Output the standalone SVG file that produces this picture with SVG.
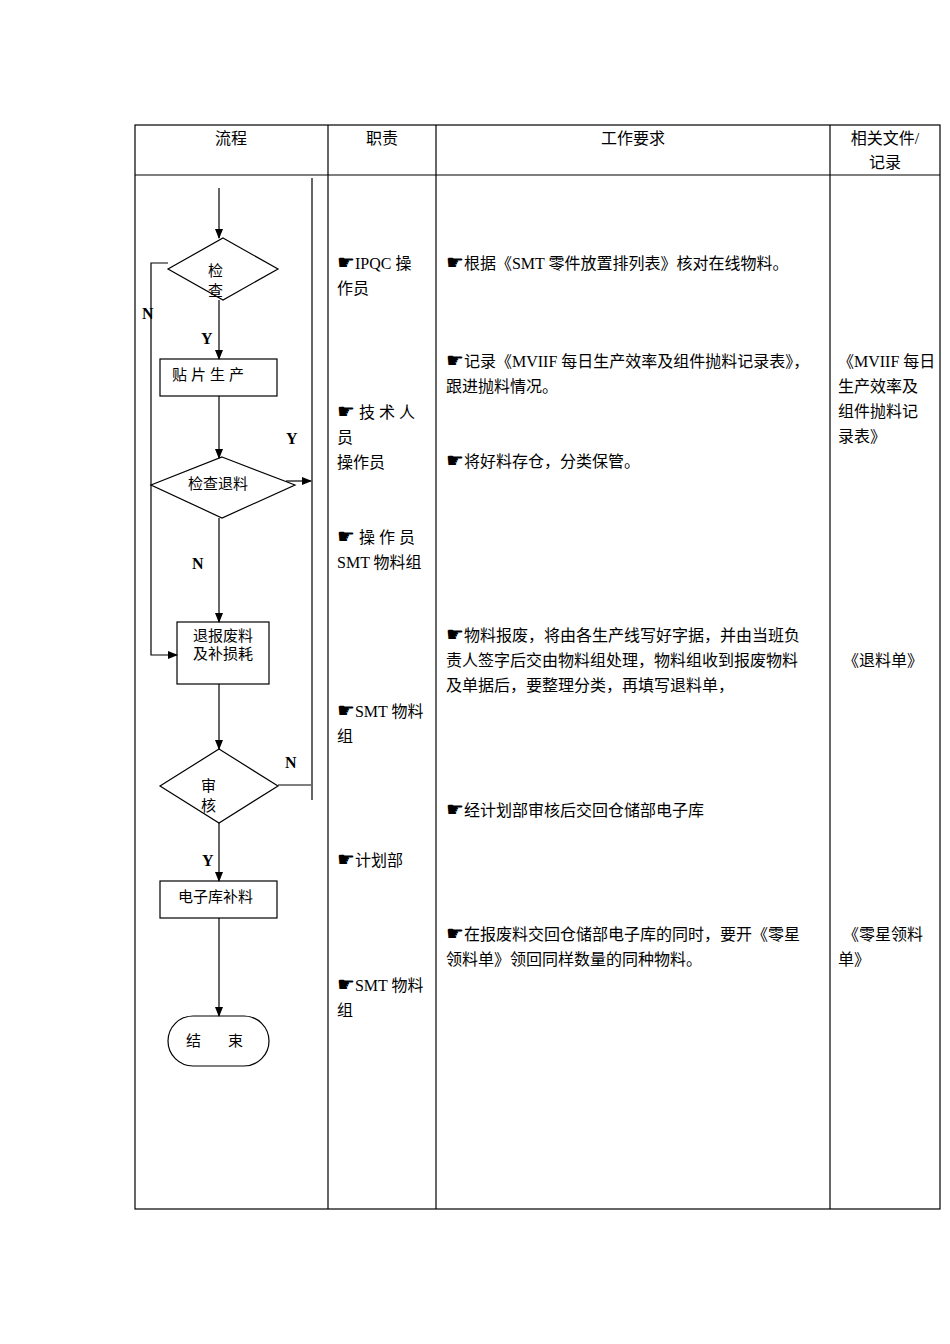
<svg xmlns="http://www.w3.org/2000/svg" width="950" height="1344" viewBox="0 0 950 1344">
<style>
text{font-family:"Liberation Serif","Noto Sans CJK SC",serif;font-size:16px;fill:#000}
.b{font-weight:bold;font-size:16px}
.s{fill:none;stroke:#000;stroke-width:1.2}
.h{font-family:"DejaVu Sans",sans-serif;font-size:20px}
.f{font-size:15px}
</style>
<defs><marker id="a" markerWidth="10" markerHeight="10" refX="9" refY="5" orient="auto" markerUnits="userSpaceOnUse"><path d="M0,1 L10,5 L0,9 z" fill="#000"/></marker></defs>
<rect width="950" height="1344" fill="#fff"/>
<g id="table" class="s">
<rect x="135" y="125" width="805" height="1084"/>
<line x1="135" y1="175" x2="940" y2="175"/>
<line x1="328" y1="125" x2="328" y2="1209"/>
<line x1="436" y1="125" x2="436" y2="1209"/>
<line x1="830" y1="125" x2="830" y2="1209"/>
</g>
<g id="header" text-anchor="middle">
<text x="231" y="144">流程</text>
<text x="382" y="144">职责</text>
<text x="633" y="144">工作要求</text>
<text x="885" y="144">相关文件/</text>
<text x="885" y="168">记录</text>
</g>
<g id="connectors" class="s">
<line x1="219" y1="188" x2="219" y2="238" marker-end="url(#a)"/>
<line x1="219" y1="300" x2="219" y2="359" marker-end="url(#a)"/>
<polyline points="168,263 151,263 151,655 177,655" marker-end="url(#a)"/>
<line x1="219" y1="396" x2="219" y2="458" marker-end="url(#a)"/>
<line x1="286" y1="481" x2="311" y2="481" marker-end="url(#a)"/>
<line x1="219" y1="518" x2="219" y2="622" marker-end="url(#a)"/>
<line x1="219" y1="684" x2="219" y2="749" marker-end="url(#a)"/>
<line x1="278" y1="785" x2="311" y2="785"/>
<line x1="312" y1="178" x2="312" y2="800"/>
<line x1="219" y1="823" x2="219" y2="881" marker-end="url(#a)"/>
<line x1="219" y1="918" x2="219" y2="1016" marker-end="url(#a)"/>
</g>
<g id="labels">
<text class="b" x="201" y="344">Y</text>
<text class="b" x="142" y="319">N</text>
<text class="b" x="286" y="444">Y</text>
<text class="b" x="192" y="569">N</text>
<text class="b" x="285" y="768">N</text>
<text class="b" x="202" y="866">Y</text>
</g>
<g id="n1"><polygon class="s" points="223,238 278,269 223,300 168,269"/><text class="f" x="208" y="276">检</text><text class="f" x="208" y="296">查</text></g>
<g id="n2"><rect class="s" x="160" y="359" width="117" height="37"/><text class="f" x="172" y="380" letter-spacing="4">贴片生产</text></g>
<g id="n3"><polygon class="s" points="222,457 295,485 222,518 151,485"/><text class="f" x="188" y="489">检查退料</text></g>
<g id="n4"><rect class="s" x="177" y="622" width="92" height="62"/><text class="f" x="223" y="641" text-anchor="middle">退报废料</text><text class="f" x="223" y="659" text-anchor="middle">及补损耗</text></g>
<g id="n5"><polygon class="s" points="219,749 278,786 219,823 160,786"/><text class="f" x="201" y="791">审</text><text class="f" x="201" y="811">核</text></g>
<g id="n6"><rect class="s" x="160" y="881" width="117" height="37"/><text class="f" x="178" y="902">电子库补料</text></g>
<g id="n7"><rect class="s" x="168" y="1016" width="101" height="50" rx="25"/><text class="f" x="186" y="1046">结</text><text class="f" x="228" y="1046">束</text></g>
<g id="duties">
<text x="337" y="269"><tspan class="h">☛</tspan>IPQC  操</text>
<text x="337" y="294">作员</text>
<text x="337" y="418"><tspan class="h">☛</tspan> 技 术 人</text>
<text x="337" y="443">员</text>
<text x="337" y="468">操作员</text>
<text x="337" y="543"><tspan class="h">☛</tspan> 操 作 员</text>
<text x="337" y="568">SMT 物料组</text>
<text x="337" y="717"><tspan class="h">☛</tspan>SMT 物料</text>
<text x="337" y="742">组</text>
<text x="337" y="866"><tspan class="h">☛</tspan>计划部</text>
<text x="337" y="991"><tspan class="h">☛</tspan>SMT 物料</text>
<text x="337" y="1016">组</text>
</g>
<g id="work">
<text x="446" y="269"><tspan class="h">☛</tspan>根据《SMT 零件放置排列表》核对在线物料。</text>
<text x="446" y="367"><tspan class="h">☛</tspan>记录《MVIIF 每日生产效率及组件抛料记录表》，</text>
<text x="446" y="392">跟进抛料情况。</text>
<text x="446" y="467"><tspan class="h">☛</tspan>将好料存仓，分类保管。</text>
<text x="446" y="641"><tspan class="h">☛</tspan>物料报废，将由各生产线写好字据，并由当班负</text>
<text x="446" y="666">责人签字后交由物料组处理，物料组收到报废物料</text>
<text x="446" y="691">及单据后，要整理分类，再填写退料单，</text>
<text x="446" y="816"><tspan class="h">☛</tspan>经计划部审核后交回仓储部电子库</text>
<text x="446" y="940"><tspan class="h">☛</tspan>在报废料交回仓储部电子库的同时，要开《零星</text>
<text x="446" y="965">领料单》领回同样数量的同种物料。</text>
</g>
<g id="records">
<text x="838" y="367">《MVIIF 每日</text>
<text x="838" y="392">生产效率及</text>
<text x="838" y="417">组件抛料记</text>
<text x="838" y="442">录表》</text>
<text x="843" y="666">《退料单》</text>
<text x="843" y="940">《零星领料</text>
<text x="838" y="965">单》</text>
</g>
</svg>
